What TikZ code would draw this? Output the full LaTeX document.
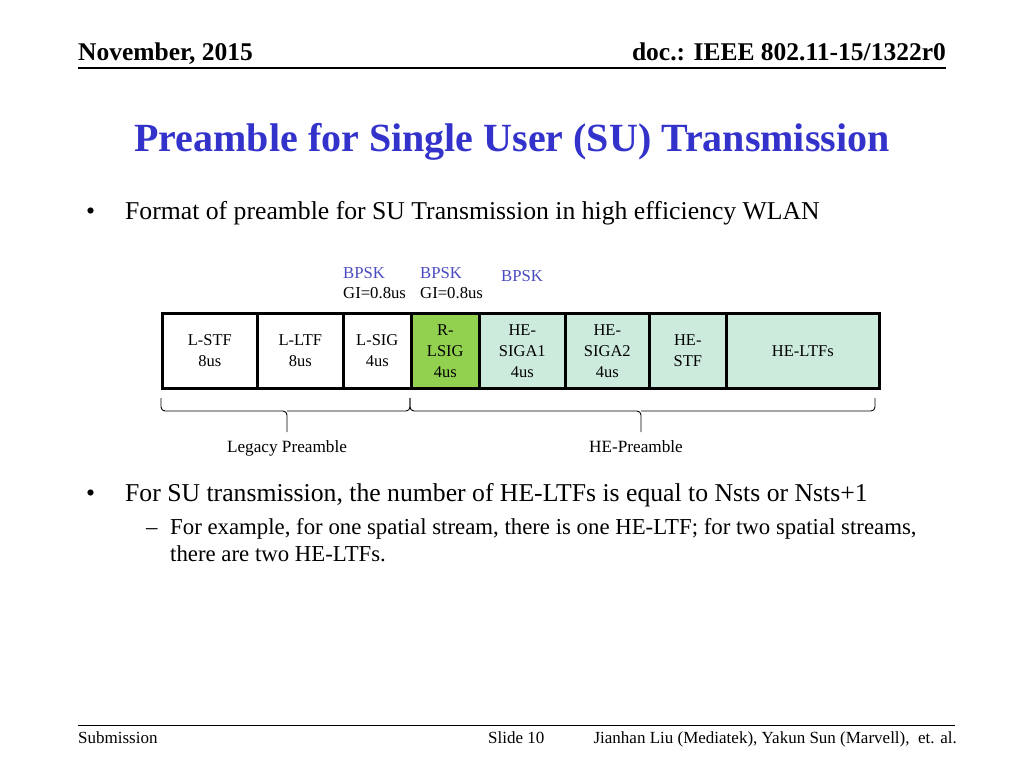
\documentclass[tikz,border=0pt]{standalone}
\usepackage{fontspec}
\setmainfont{Liberation Serif}
\definecolor{blueT}{HTML}{3333CC}
\definecolor{bpsk}{HTML}{4A4AC0}
\definecolor{mint}{HTML}{CDEBDD}
\definecolor{lgreen}{HTML}{92D050}
\begin{document}
\begin{tikzpicture}[x=1pt,y=-1pt,
  fld/.style={draw=black,line width=2.6pt,minimum height=75pt,anchor=north west,inner sep=0pt,align=center,font=\fontsize{16.5}{21}\selectfont},
  lbl/.style={inner sep=0pt,anchor=base west},
  brc/.style={draw=black,line width=0.9pt,rounded corners=4pt}]
\useasboundingbox (0,0) rectangle (1024,768);
% header
\node[lbl,font=\fontsize{25.5}{28}\selectfont\bfseries] (date) at (78,60) {November, 2015};
\node[inner sep=0pt,anchor=base east,font=\fontsize{25.5}{28}\selectfont\bfseries] (doc) at (946,60) {doc.: IEEE 802.11-15/1322r0};
\draw[line width=1.2pt] (78,68) -- (946,68);
% title
\node[inner sep=0pt,anchor=base,text=blueT,font=\fontsize{40}{46}\selectfont\bfseries] (title) at (512,151) {Preamble for Single User (SU) Transmission};
% bullet 1
\node[lbl,font=\fontsize{25.7}{30}\selectfont] (b1) at (86,219) {•};
\node[lbl,font=\fontsize{25.7}{30}\selectfont] (t1) at (125,219) {Format of preamble for SU Transmission in high efficiency WLAN};
% modulation labels
\node[lbl,text=bpsk,font=\fontsize{16.7}{18}\selectfont] (m1) at (343,278) {BPSK};
\node[lbl,font=\fontsize{16.7}{18}\selectfont] (g1) at (343,298) {GI=0.8us};
\node[lbl,text=bpsk,font=\fontsize{16.7}{18}\selectfont] (m2) at (420,278) {BPSK};
\node[lbl,font=\fontsize{16.7}{18}\selectfont] (g2) at (420,298) {GI=0.8us};
\node[lbl,text=bpsk,font=\fontsize{16.7}{18}\selectfont] (m3) at (501,281) {BPSK};
% fields
\node[fld,fill=white,minimum width=95pt] (lstf) at (161,312) {L-STF\\8us};
\node[fld,fill=white,minimum width=86pt] (lltf) at (256,312) {L-LTF\\8us};
\node[fld,fill=white,minimum width=68pt] (lsig) at (342,312) {L-SIG\\4us};
\node[fld,fill=lgreen,minimum width=68pt] (rlsig) at (410,312) {R-\\LSIG\\4us};
\node[fld,fill=mint,minimum width=86pt] (siga1) at (478,312) {HE-\\SIGA1\\4us};
\node[fld,fill=mint,minimum width=84pt] (siga2) at (564,312) {HE-\\SIGA2\\4us};
\node[fld,fill=mint,minimum width=77pt] (hestf) at (648,312) {HE-\\STF};
\node[fld,fill=mint,minimum width=153pt] (heltf) at (725,312) {HE-LTFs};
% braces
\coordinate (la) at (161,398);
\coordinate (lb) at (410,398);
\coordinate (ra) at (410,398);
\coordinate (rb) at (875,398);
\draw[brc] (la) -- (161,411) -- (287,411) -- (287,432);
\draw[brc] (287,411) -- (410,411) -- (lb);
\draw[brc] (ra) -- (410,411) -- (641,411) -- (641,432);
\draw[brc] (641,411) -- (875,411) -- (rb);
\node[inner sep=0pt,anchor=base,font=\fontsize{17.2}{19}\selectfont] (leg) at (287,452) {Legacy Preamble};
\node[inner sep=0pt,anchor=base,font=\fontsize{17.2}{19}\selectfont] (hep) at (636,452) {HE-Preamble};
% bullet 2
\node[lbl,font=\fontsize{25.7}{30}\selectfont] (b2) at (86,501) {•};
\node[lbl,font=\fontsize{25.7}{30}\selectfont] (t2) at (125,501) {For SU transmission, the number of HE-LTFs is equal to Nsts or Nsts+1};
\node[lbl,font=\fontsize{22.8}{26}\selectfont] (d1) at (146,534) {–};
\node[lbl,font=\fontsize{22.8}{26}\selectfont] (t3) at (170,534) {For example, for one spatial stream, there is one HE-LTF; for two spatial streams,};
\node[lbl,font=\fontsize{22.8}{26}\selectfont] (t4) at (170,561) {there are two HE-LTFs.};
% footer
\draw[line width=1pt] (78,725) -- (955,725);
\node[lbl,font=\fontsize{17}{19}\selectfont] (sub) at (78,743) {Submission};
\node[lbl,font=\fontsize{17}{19}\selectfont] (sl) at (488,743) {Slide 10};
\node[inner sep=0pt,anchor=base east,font=\fontsize{17}{19}\selectfont] (auth) at (957,743) {Jianhan Liu (Mediatek), Yakun Sun (Marvell),\ \ et. al.};
\end{tikzpicture}
\end{document}
